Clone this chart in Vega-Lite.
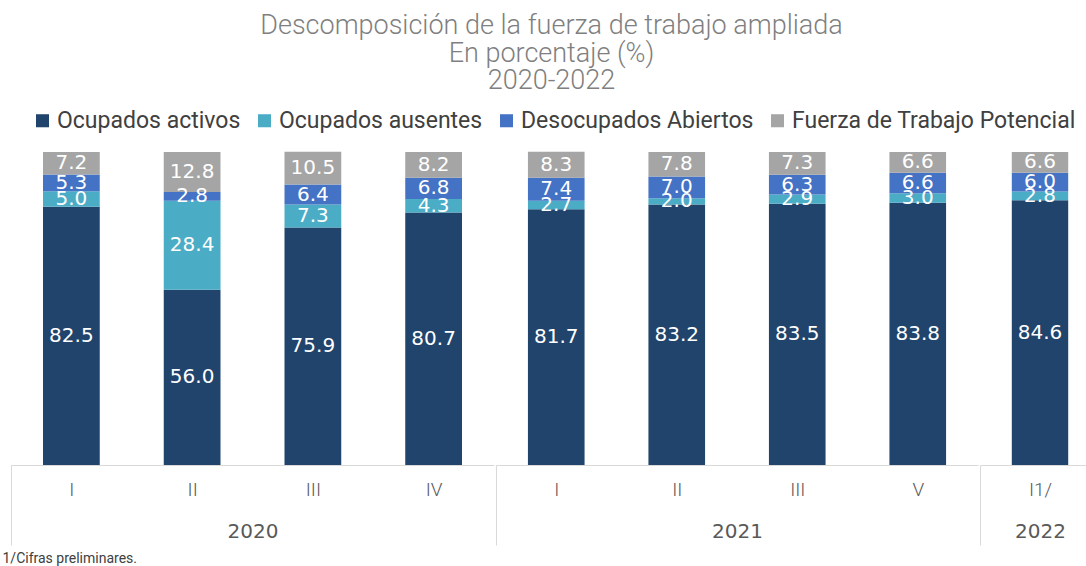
{
  "$schema": "https://vega.github.io/schema/vega-lite/v6.json",
  "padding": {"left": 2, "right": 0, "top": 12, "bottom": 0},
  "background": "white",
  "title": {
    "text": ["Descomposición de la fuerza de trabajo ampliada", "En porcentaje (%)", "2020-2022"],
    "font": "Roboto", "fontWeight": 300, "fontSize": 27, "color": "#7f7f7f",
    "lineHeight": 27.5, "anchor": "middle", "offset": 14
  },
  "data": {"values": [
    {"anio": "2020", "periodo": "I", "serie": "Ocupados activos", "orden": 1, "valor": 82.5},
    {"anio": "2020", "periodo": "I", "serie": "Ocupados ausentes", "orden": 2, "valor": 5.0},
    {"anio": "2020", "periodo": "I", "serie": "Desocupados Abiertos", "orden": 3, "valor": 5.3},
    {"anio": "2020", "periodo": "I", "serie": "Fuerza de Trabajo Potencial", "orden": 4, "valor": 7.2},
    {"anio": "2020", "periodo": "II", "serie": "Ocupados activos", "orden": 1, "valor": 56.0},
    {"anio": "2020", "periodo": "II", "serie": "Ocupados ausentes", "orden": 2, "valor": 28.4},
    {"anio": "2020", "periodo": "II", "serie": "Desocupados Abiertos", "orden": 3, "valor": 2.8},
    {"anio": "2020", "periodo": "II", "serie": "Fuerza de Trabajo Potencial", "orden": 4, "valor": 12.8},
    {"anio": "2020", "periodo": "III", "serie": "Ocupados activos", "orden": 1, "valor": 75.9},
    {"anio": "2020", "periodo": "III", "serie": "Ocupados ausentes", "orden": 2, "valor": 7.3},
    {"anio": "2020", "periodo": "III", "serie": "Desocupados Abiertos", "orden": 3, "valor": 6.4},
    {"anio": "2020", "periodo": "III", "serie": "Fuerza de Trabajo Potencial", "orden": 4, "valor": 10.5},
    {"anio": "2020", "periodo": "IV", "serie": "Ocupados activos", "orden": 1, "valor": 80.7},
    {"anio": "2020", "periodo": "IV", "serie": "Ocupados ausentes", "orden": 2, "valor": 4.3},
    {"anio": "2020", "periodo": "IV", "serie": "Desocupados Abiertos", "orden": 3, "valor": 6.8},
    {"anio": "2020", "periodo": "IV", "serie": "Fuerza de Trabajo Potencial", "orden": 4, "valor": 8.2},
    {"anio": "2021", "periodo": "I", "serie": "Ocupados activos", "orden": 1, "valor": 81.7},
    {"anio": "2021", "periodo": "I", "serie": "Ocupados ausentes", "orden": 2, "valor": 2.7},
    {"anio": "2021", "periodo": "I", "serie": "Desocupados Abiertos", "orden": 3, "valor": 7.4},
    {"anio": "2021", "periodo": "I", "serie": "Fuerza de Trabajo Potencial", "orden": 4, "valor": 8.3},
    {"anio": "2021", "periodo": "II", "serie": "Ocupados activos", "orden": 1, "valor": 83.2},
    {"anio": "2021", "periodo": "II", "serie": "Ocupados ausentes", "orden": 2, "valor": 2.0},
    {"anio": "2021", "periodo": "II", "serie": "Desocupados Abiertos", "orden": 3, "valor": 7.0},
    {"anio": "2021", "periodo": "II", "serie": "Fuerza de Trabajo Potencial", "orden": 4, "valor": 7.8},
    {"anio": "2021", "periodo": "III", "serie": "Ocupados activos", "orden": 1, "valor": 83.5},
    {"anio": "2021", "periodo": "III", "serie": "Ocupados ausentes", "orden": 2, "valor": 2.9},
    {"anio": "2021", "periodo": "III", "serie": "Desocupados Abiertos", "orden": 3, "valor": 6.3},
    {"anio": "2021", "periodo": "III", "serie": "Fuerza de Trabajo Potencial", "orden": 4, "valor": 7.3},
    {"anio": "2021", "periodo": "V", "serie": "Ocupados activos", "orden": 1, "valor": 83.8},
    {"anio": "2021", "periodo": "V", "serie": "Ocupados ausentes", "orden": 2, "valor": 3.0},
    {"anio": "2021", "periodo": "V", "serie": "Desocupados Abiertos", "orden": 3, "valor": 6.6},
    {"anio": "2021", "periodo": "V", "serie": "Fuerza de Trabajo Potencial", "orden": 4, "valor": 6.6},
    {"anio": "2022", "periodo": "I1/", "serie": "Ocupados activos", "orden": 1, "valor": 84.6},
    {"anio": "2022", "periodo": "I1/", "serie": "Ocupados ausentes", "orden": 2, "valor": 2.8},
    {"anio": "2022", "periodo": "I1/", "serie": "Desocupados Abiertos", "orden": 3, "valor": 6.0},
    {"anio": "2022", "periodo": "I1/", "serie": "Fuerza de Trabajo Potencial", "orden": 4, "valor": 6.6}
  ]},
  "spacing": 0,
  "resolve": {"scale": {"y": "shared", "color": "shared"}},
  "hconcat": [
    {
      "width": 483, "height": 313,
      "title": {"text": "1/Cifras preliminares.", "orient": "bottom", "anchor": "start", "fontSize": 14, "font": "Roboto", "fontWeight": "normal", "color": "#404040", "dx": -8, "offset": 6},
      "transform": [{"filter": "datum.anio == '2020'"}],
      "encoding": {
        "x": {"field": "periodo", "type": "nominal", "sort": null,
          "scale": {"paddingInner": 0, "paddingOuter": 0},
          "axis": {"title": "2020"}}
      },
      "layer": [
        {"mark": {"type": "bar", "width": {"band": 0.47}},
         "encoding": {
           "y": {"field": "valor", "type": "quantitative", "stack": "zero", "scale": {"domain": [0, 100], "nice": false}, "axis": null},
           "order": {"field": "orden", "type": "quantitative", "sort": "ascending"},
           "color": {"field": "serie", "type": "nominal", "sort": ["Ocupados activos", "Ocupados ausentes", "Desocupados Abiertos", "Fuerza de Trabajo Potencial"],
             "scale": {"domain": ["Ocupados activos", "Ocupados ausentes", "Desocupados Abiertos", "Fuerza de Trabajo Potencial"], "range": ["#21446d", "#4bacc6", "#4472c4", "#a5a5a5"]},
             "legend": {"title": null, "orient": "none", "legendX": 20, "legendY": -43}}
         }},
        {"mark": {"type": "text", "font": "DejaVu Sans", "fontSize": 20},
         "encoding": {
           "y": {"field": "valor", "type": "quantitative", "stack": "zero", "bandPosition": 0.5},
           "order": {"field": "orden", "type": "quantitative", "sort": "ascending"},
           "detail": {"field": "serie", "type": "nominal"},
           "color": {"value": "#ffffff"},
           "text": {"field": "valor", "type": "quantitative", "format": ".1f"}
         }}
      ]
    },
    {
      "width": 482, "height": 313,
      "transform": [{"filter": "datum.anio == '2021'"}],
      "encoding": {
        "x": {"field": "periodo", "type": "nominal", "sort": null,
          "scale": {"paddingInner": 0, "paddingOuter": 0},
          "axis": {"title": "2021"}}
      },
      "layer": [
        {"mark": {"type": "bar", "width": {"band": 0.47}},
         "encoding": {
           "y": {"field": "valor", "type": "quantitative", "stack": "zero", "scale": {"domain": [0, 100], "nice": false}, "axis": null},
           "order": {"field": "orden", "type": "quantitative", "sort": "ascending"},
           "color": {"field": "serie", "type": "nominal"}
         }},
        {"mark": {"type": "text", "font": "DejaVu Sans", "fontSize": 20},
         "encoding": {
           "y": {"field": "valor", "type": "quantitative", "stack": "zero", "bandPosition": 0.5},
           "order": {"field": "orden", "type": "quantitative", "sort": "ascending"},
           "detail": {"field": "serie", "type": "nominal"},
           "color": {"value": "#ffffff"},
           "text": {"field": "valor", "type": "quantitative", "format": ".1f"}
         }}
      ]
    },
    {
      "width": 108, "height": 313,
      "transform": [{"filter": "datum.anio == '2022'"}],
      "encoding": {
        "x": {"field": "periodo", "type": "nominal", "sort": null,
          "scale": {"paddingInner": 0, "paddingOuter": 0, "range": [0, 120]},
          "axis": {"title": "2022"}}
      },
      "layer": [
        {"mark": {"type": "bar", "width": {"band": 0.47}},
         "encoding": {
           "y": {"field": "valor", "type": "quantitative", "stack": "zero", "scale": {"domain": [0, 100], "nice": false}, "axis": null},
           "order": {"field": "orden", "type": "quantitative", "sort": "ascending"},
           "color": {"field": "serie", "type": "nominal"}
         }},
        {"mark": {"type": "text", "font": "DejaVu Sans", "fontSize": 20},
         "encoding": {
           "y": {"field": "valor", "type": "quantitative", "stack": "zero", "bandPosition": 0.5},
           "order": {"field": "orden", "type": "quantitative", "sort": "ascending"},
           "detail": {"field": "serie", "type": "nominal"},
           "color": {"value": "#ffffff"},
           "text": {"field": "valor", "type": "quantitative", "format": ".1f"}
         }}
      ]
    }
  ],
  "config": {
    "view": {"stroke": null},
    "axisX": {
      "labelAngle": 0, "labelFontSize": 19, "labelColor": "#595959", "labelFont": "Roboto", "labelFontWeight": 300,
      "labelPadding": -65, "tickBand": "extent", "tickSize": 80, "tickWidth": 1,
      "tickColor": {"condition": {"test": "datum.value == null", "value": "#d9d9d9"}, "value": "transparent"},
      "domainColor": "#d9d9d9", "domainWidth": 1,
      "titleFontSize": 20, "titleColor": "#595959", "titleFont": "DejaVu Sans", "titleFontWeight": "normal", "titlePadding": -24
    },
    "legend": {
      "direction": "horizontal", "symbolType": "square", "symbolSize": 170, "labelLimit": 0,
      "labelFontSize": 23, "labelFont": "Roboto", "labelColor": "#404040", "columnPadding": 12, "symbolStrokeWidth": 0, "labelOffset": 3
    }
  }
}
